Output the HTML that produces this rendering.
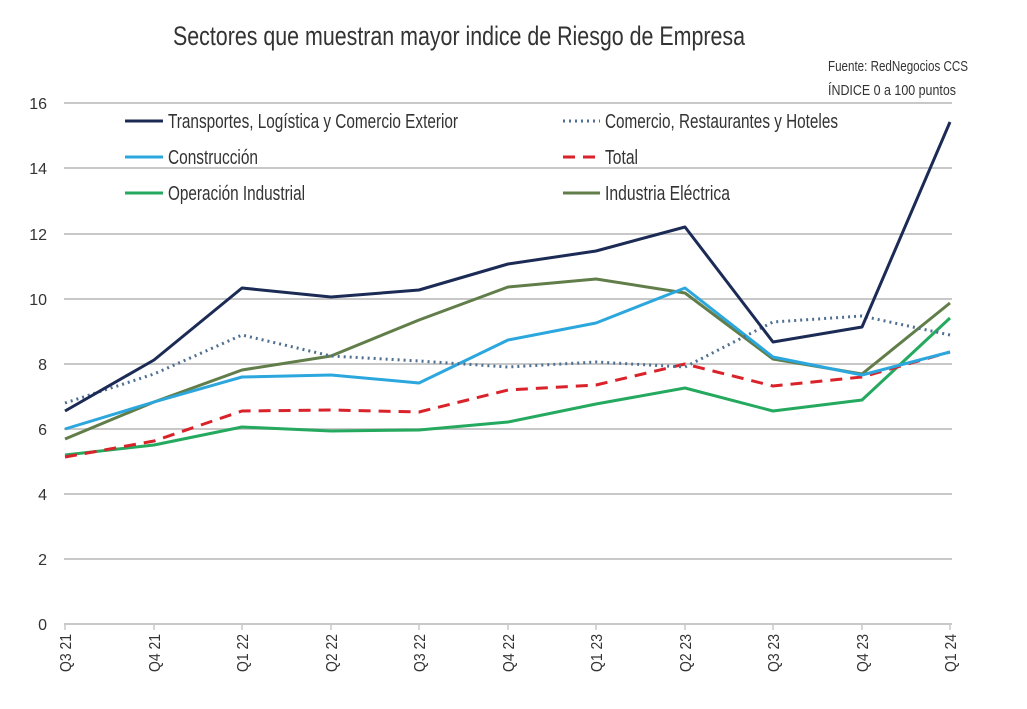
<!DOCTYPE html>
<html><head><meta charset="utf-8"><style>
html,body{margin:0;padding:0;background:#fff;}
svg{display:block;}
text{font-family:"Liberation Sans Narrow","Liberation Sans",sans-serif;fill:#333;}
</style></head><body>
<svg width="1027" height="709" viewBox="0 0 1027 709">
<text x="173" y="45" font-size="27" textLength="572" lengthAdjust="spacingAndGlyphs" fill="#3a3a3a">Sectores que muestran mayor indice de Riesgo de Empresa</text>
<text x="828" y="71" font-size="15" textLength="140" lengthAdjust="spacingAndGlyphs">Fuente: RedNegocios CCS</text>
<text x="828" y="95" font-size="15" textLength="128" lengthAdjust="spacingAndGlyphs">ÍNDICE 0 a 100  puntos</text>
<g stroke="#c8c8c8" stroke-width="2">
<line x1="64" y1="103" x2="952" y2="103"/><line x1="64" y1="168" x2="952" y2="168"/>
<line x1="64" y1="234" x2="952" y2="234"/><line x1="64" y1="299" x2="952" y2="299"/>
<line x1="64" y1="364" x2="952" y2="364"/><line x1="64" y1="429" x2="952" y2="429"/>
<line x1="64" y1="494" x2="952" y2="494"/><line x1="64" y1="559" x2="952" y2="559"/>
<line x1="64" y1="624" x2="952" y2="624"/>
</g>
<g stroke="#c8c8c8" stroke-width="1.5">
<line x1="65" y1="624" x2="65" y2="630"/><line x1="154" y1="624" x2="154" y2="630"/><line x1="242" y1="624" x2="242" y2="630"/><line x1="331" y1="624" x2="331" y2="630"/><line x1="419" y1="624" x2="419" y2="630"/><line x1="508" y1="624" x2="508" y2="630"/><line x1="596" y1="624" x2="596" y2="630"/><line x1="685" y1="624" x2="685" y2="630"/><line x1="773" y1="624" x2="773" y2="630"/><line x1="862" y1="624" x2="862" y2="630"/><line x1="950" y1="624" x2="950" y2="630"/>
</g>
<g font-size="16" text-anchor="end">
<text x="47" y="109">16</text><text x="47" y="174">14</text><text x="47" y="240">12</text><text x="47" y="305">10</text><text x="47" y="370">8</text><text x="47" y="435">6</text><text x="47" y="500">4</text><text x="47" y="565">2</text><text x="47" y="630">0</text>
</g>
<g font-size="16" text-anchor="end">
<text transform="translate(71,634) rotate(-90)" textLength="38" lengthAdjust="spacingAndGlyphs">Q3 21</text>
<text transform="translate(160,634) rotate(-90)" textLength="38" lengthAdjust="spacingAndGlyphs">Q4 21</text>
<text transform="translate(248,634) rotate(-90)" textLength="38" lengthAdjust="spacingAndGlyphs">Q1 22</text>
<text transform="translate(337,634) rotate(-90)" textLength="38" lengthAdjust="spacingAndGlyphs">Q2 22</text>
<text transform="translate(425,634) rotate(-90)" textLength="38" lengthAdjust="spacingAndGlyphs">Q3 22</text>
<text transform="translate(514,634) rotate(-90)" textLength="38" lengthAdjust="spacingAndGlyphs">Q4 22</text>
<text transform="translate(602,634) rotate(-90)" textLength="38" lengthAdjust="spacingAndGlyphs">Q1 23</text>
<text transform="translate(691,634) rotate(-90)" textLength="38" lengthAdjust="spacingAndGlyphs">Q2 23</text>
<text transform="translate(779,634) rotate(-90)" textLength="38" lengthAdjust="spacingAndGlyphs">Q3 23</text>
<text transform="translate(868,634) rotate(-90)" textLength="38" lengthAdjust="spacingAndGlyphs">Q4 23</text>
<text transform="translate(956,634) rotate(-90)" textLength="38" lengthAdjust="spacingAndGlyphs">Q1 24</text>
</g>
<g fill="none" stroke-width="3" stroke-linejoin="round">
<polyline stroke="#617d49" points="65,439 154,402 242,370 331,356 419,320 508,287 596,279 685,293 773,359 862,374 950,303"/>
<polyline stroke="#24a95e" points="65,455 154,445 242,427 331,431 419,430 508,422 596,404 685,388 773,411 862,400 950,318"/>
<polyline stroke="#d9222a" stroke-dasharray="12,8" points="65,457 154,441 242,411 331,410 419,412 508,390 596,385 685,364 773,386 862,377 950,352"/>
<polyline stroke="#2ba7de" points="65,429 154,402 242,377 331,375 419,383 508,340 596,323 685,288 773,357 862,375 950,352"/>
<polyline stroke="#4f6f92" stroke-dasharray="2,4" points="65,403 154,374 242,335 331,356 419,361 508,367 596,362 685,367 773,322 862,316 950,335"/>
<polyline stroke="#1c2b55" points="65,411 154,360 242,288 331,297 419,290 508,264 596,251 685,227 773,342 862,327 950,122"/>
</g>
<g stroke-width="3">
<line x1="125" y1="121" x2="163" y2="121" stroke="#1c2b55"/>
<line x1="125" y1="157" x2="163" y2="157" stroke="#2ba7de"/>
<line x1="125" y1="193" x2="163" y2="193" stroke="#24a95e"/>
<line x1="563" y1="121" x2="600" y2="121" stroke="#4f6f92" stroke-dasharray="2,4"/>
<line x1="563" y1="157" x2="600" y2="157" stroke="#d9222a" stroke-dasharray="12,8"/>
<line x1="563" y1="193" x2="600" y2="193" stroke="#617d49"/>
</g>
<g font-size="20">
<text x="168" y="128" textLength="290" lengthAdjust="spacingAndGlyphs">Transportes, Logística y Comercio Exterior</text>
<text x="168" y="164" textLength="90" lengthAdjust="spacingAndGlyphs">Construcción</text>
<text x="168" y="200" textLength="137" lengthAdjust="spacingAndGlyphs">Operación Industrial</text>
<text x="605" y="128" textLength="233" lengthAdjust="spacingAndGlyphs">Comercio, Restaurantes y Hoteles</text>
<text x="605" y="164" textLength="33" lengthAdjust="spacingAndGlyphs">Total</text>
<text x="605" y="200" textLength="125" lengthAdjust="spacingAndGlyphs">Industria Eléctrica</text>
</g>
</svg>
</body></html>
